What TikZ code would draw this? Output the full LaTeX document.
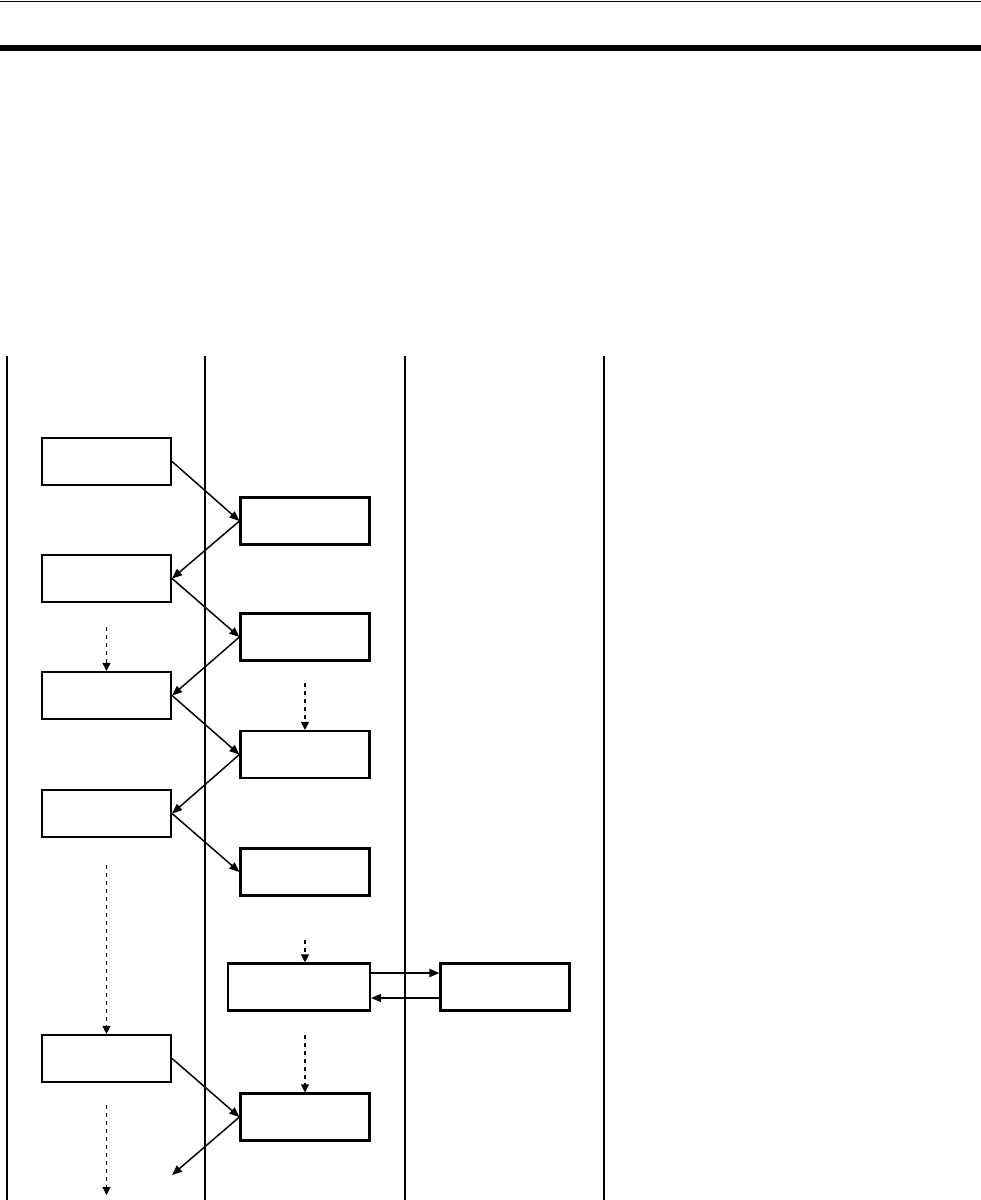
\documentclass[tikz,border=0pt]{standalone}
\usetikzlibrary{arrows.meta}

\tikzset{
    box/.style={rectangle, draw, line width=1.6pt, fill=white, inner sep=0pt,
        minimum width=96.75pt, minimum height=35.25pt},
    msg/.style={line width=1.1pt, -{Triangle[length=7.5pt, width=6pt]}},
    wait/.style={line width=0.8pt, dash pattern=on 3pt off 3pt,
        -{Triangle[length=6pt, width=6pt]}}
}

\begin{document}
\begin{tikzpicture}[x=0.75pt, y=-0.75pt]
    \useasboundingbox (0,0) rectangle (981,1200);

    % Rules at the top
    \draw[line width=1.2pt] (0,1.5) -- (981,1.5);
    \draw[line width=4.2pt] (0,48) -- (981,48);

    % Lanes
    \draw[line width=2pt] (7,356) -- (7,1200);
    \draw[line width=0.8pt] (205,356) -- (205,1200);
    \draw[line width=2pt] (405,356) -- (405,1200);
    \draw[line width=2pt] (604,356) -- (604,1200);

    % Draw nodes
    \node[box] (l1) at (106.5,461.5) {};
    \node[box] (l2) at (106.5,578.5) {};
    \node[box] (l3) at (106.5,695.5) {};
    \node[box] (l4) at (106.5,813.5) {};
    \node[box] (l5) at (106.5,1058.5) {};

    \node[box] (m1) at (305,521) {};
    \node[box] (m2) at (305,637) {};
    \node[box] (m3) at (305,754.5) {};
    \node[box] (m4) at (305,872) {};
    \node[box, minimum width=106.5pt] (w) at (299,987) {};
    \node[box] (m5) at (305,1117) {};

    \node[box] (r1) at (505,987) {};

    % Free ends
    \coordinate (d1) at (106.5,627);
    \coordinate (d2) at (305,683);
    \coordinate (d3) at (106.5,865);
    \coordinate (d4) at (305,940);
    \coordinate (d5) at (305,1035);
    \coordinate (d6) at (106.5,1105);
    \coordinate (d7) at (106.5,1195);
    \coordinate (e1) at (172,1175);

    % Draw connections
    \draw[msg] (l1.east) -- (m1.west);
    \draw[msg] (m1.west) -- (l2.east);
    \draw[msg] (l2.east) -- (m2.west);
    \draw[msg] (m2.west) -- (l3.east);
    \draw[msg] (l3.east) -- (m3.west);
    \draw[msg] (m3.west) -- (l4.east);
    \draw[msg] (l4.east) -- (m4.west);
    \draw[msg] (l5.east) -- (m5.west);
    \draw[msg] (m5.west) -- (e1);

    \draw[msg, line width=1.5pt] ([yshift=10.5pt]w.east) -- ([yshift=10.5pt]r1.west);
    \draw[msg] ([yshift=-8.25pt]r1.west) -- ([yshift=-8.25pt]w.east);

    % Waiting
    \draw[wait] (d1) -- (l3.north);
    \draw[wait] (d2) -- (m3.north);
    \draw[wait] (d3) -- (l5.north);
    \draw[wait] (d4) -- (d4 |- w.north);
    \draw[wait] (d5) -- (m5.north);
    \draw[wait] (d6) -- (d7);
\end{tikzpicture}
\end{document}
